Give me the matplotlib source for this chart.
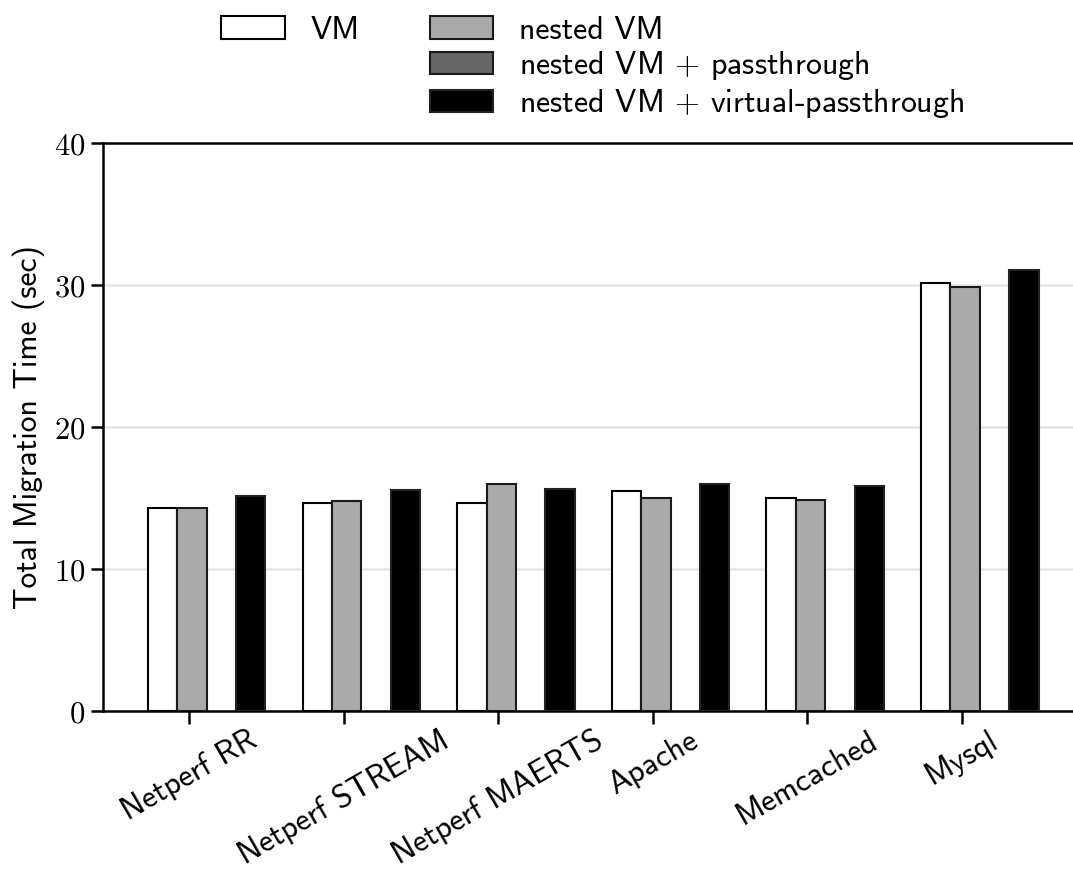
import matplotlib
matplotlib.use("Agg")
import matplotlib.pyplot as plt
from matplotlib.patches import Patch
import numpy as np

plt.rcParams['mathtext.fontset'] = 'cm'
sans = ['cmss10', 'DejaVu Sans']

# data
benchmarks = ['Netperf RR', 'Netperf STREAM', 'Netperf MAERTS', 'Apache', 'Memcached', 'Mysql']
vm = [14.27, 14.67, 14.67, 15.49, 15.02, 30.16]
nested_vm = [14.27, 14.77, 15.99, 15.02, 14.86, 29.88]
nested_pt = [np.nan, np.nan, np.nan, np.nan, np.nan, np.nan]  # no bars drawn
nested_vpt = [15.12, 15.54, 15.61, 16.0, 15.82, 31.03]
series_labels = ['VM', 'nested VM', r'nested VM $+$ passthrough', r'nested VM $+$ virtual-passthrough']
yticks = [0, 10, 20, 30, 40]

colors = ['white', '#aaaaaa', '#666666', 'black']
edges = ['black', '#1a1a1a', '#1a1a1a', '#222222']

fig = plt.figure(figsize=(10.73, 8.71), dpi=100)
ax = fig.add_axes([0.096, 0.1837, 0.904, 0.6521])

x = np.arange(len(benchmarks))
w = 0.19
offsets = [-0.17, 0.02, 0.21, 0.40]
for vals, off, c, ec in zip([vm, nested_vm, nested_pt, nested_vpt], offsets, colors, edges):
    ax.bar(x + off, vals, width=w, color=c, edgecolor=ec, linewidth=1.5, zorder=3)

ax.set_xlim(-0.556, 5.718)
ax.set_ylim(0, 40)
ax.set_yticks(yticks)
ax.set_yticklabels([f'${v}$' for v in yticks], fontsize=22)
ax.set_xticks(x)
ax.set_xticklabels(benchmarks, rotation=30, ha='center', fontsize=23, family=sans)
ax.tick_params(axis='both', direction='out', length=9, width=1.8, color='black')
ax.tick_params(axis='y', pad=4)
ax.tick_params(axis='x', pad=1.5)
ax.grid(axis='y', color='#e6e6e6', linewidth=1.8, zorder=0)
ax.set_axisbelow(True)
for side in ['left', 'bottom', 'top']:
    ax.spines[side].set_linewidth(1.8)
ax.spines['right'].set_visible(False)
ax.set_ylabel('Total Migration Time (sec)', fontsize=22.8, family=sans, labelpad=6)

# legend: VM alone in first column, rest in second
blank = Patch(facecolor='none', edgecolor='none')
handles = [Patch(facecolor=c, edgecolor=ec, linewidth=1.5) for c, ec in zip(colors, edges)]
leg = fig.legend([handles[0], blank, blank, handles[1], handles[2], handles[3]],
                 [series_labels[0], '', '', series_labels[1], series_labels[2], series_labels[3]],
                 ncol=2, loc='upper left', bbox_to_anchor=(0.2057, 0.982), frameon=False,
                 prop={'family': sans, 'size': 23}, borderpad=0, borderaxespad=0,
                 handlelength=2.0, handleheight=0.7, handletextpad=0.8,
                 columnspacing=2.2, labelspacing=0.15)

fig.savefig('out.png', dpi=100)
